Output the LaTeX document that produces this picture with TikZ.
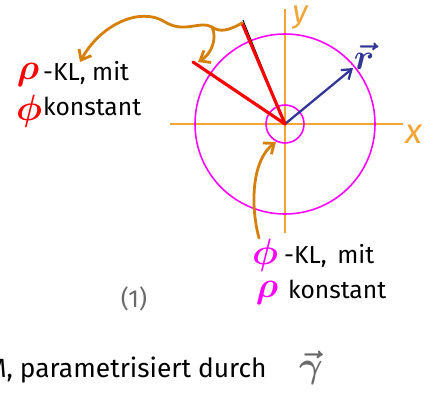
\documentclass[tikz,border=0pt]{standalone}
\usepackage{fontspec}
\setmainfont{Fira Sans}
\definecolor{axisorange}{RGB}{245,165,55}
\definecolor{noteorange}{RGB}{212,128,10}
\definecolor{klmagenta}{RGB}{255,0,255}
\definecolor{klred}{RGB}{250,0,0}
\definecolor{vecblue}{RGB}{50,55,150}
\definecolor{pengray}{RGB}{105,105,105}
\usetikzlibrary{arrows.meta,positioning}

\begin{document}
\begin{tikzpicture}[x=0.02cm,y=-0.02cm,font=\fontsize{14}{16}\selectfont,
  axis/.style={axisorange,line width=0.8pt},
  kl/.style={klmagenta,line width=0.9pt},
  note/.style={noteorange,line width=1.6pt,line cap=round,-{Straight Barb[length=5pt,width=8pt]}},
  sym/.style={inner sep=0pt,font=\fontsize{20}{20}\selectfont\boldmath},
  txt/.style={inner sep=1pt,anchor=base west}]
  \useasboundingbox (0,0) rectangle (429,392);
  % axes and circles
  \coordinate (o) at (285,124);
  \coordinate (xl) at (170,124);
  \coordinate (xr) at (403,124);
  \coordinate (yt) at (285,9);
  \coordinate (yb) at (285,233);
  \draw[axis] (xl) -- (xr);
  \draw[axis] (yb) -- (yt);
  \node[axisorange,sym,font=\fontsize{20}{20}\selectfont\itshape] (xlab) at (414,134) {x};
  \node[axisorange,sym,font=\fontsize{18}{18}\selectfont\itshape] (ylab) at (300,18) {y};
  \draw[kl] (o) circle[radius=90];
  \draw[kl] (o) circle[radius=19];
  % position vector
  \coordinate (rtip) at (353,68);
  \draw[vecblue,line width=1.3pt,-{Straight Barb[length=5pt,width=7pt]}] (o) -- (rtip);
  \node[vecblue,sym] (rlab) at (364,56) {$\vec r$};
  % rho-lines
  \coordinate (ra) at (193,62);
  \coordinate (rb) at (242,23);
  \draw[black,line width=0.5pt] (o) -- (243,20);
  \draw[klred,line width=1.8pt,line cap=round] (o) -- (ra);
  \draw[klred,line width=1.8pt,line cap=round] (o) -- (rb);
  % labels
  \node[klred,sym] (rho1) at (28,75) {$\rho$};
  \node[txt] (rhoKL) at (41,80) {-KL, mit};
  \node[klred,sym] (phi1) at (29,111) {$\phi$};
  \node[txt] (phiK) at (41,115) {konstant};
  \node[klmagenta,sym] (phi2) at (265,255) {$\phi$};
  \node[txt] (phiKL) at (282,263) {-KL,\, mit};
  \node[klmagenta,sym] (rho2) at (267,293) {$\rho$};
  \node[txt] (rhoK) at (286,298) {konstant};
  \node[pengray] (num) at (134,299) {(1)};
  \node[inner sep=0pt,anchor=base east,font=\fontsize{15}{17}\selectfont] (param) at (267,377) {M, parametrisiert durch};
  \node[pengray,sym] (gam) at (311,368) {$\vec\gamma$};
  % hand arrows
  \coordinate (bend) at (212,27);
  \coordinate (rhoTip) at (80,62);
  \coordinate (raTip) at (198,62);
  \draw[note] (rb) .. controls (230,30) and (220,33) .. (bend)
    .. controls (200,20) and (185,34) .. (165,22)
    .. controls (140,6) and (100,25) .. (rhoTip);
  \draw[note] (bend) .. controls (218,40) and (210,55) .. (raTip);
  \coordinate (circTip) at (276,142);
  \draw[note] (259,238) .. controls (250,205) and (252,160) .. (circTip);
\end{tikzpicture}
\end{document}
